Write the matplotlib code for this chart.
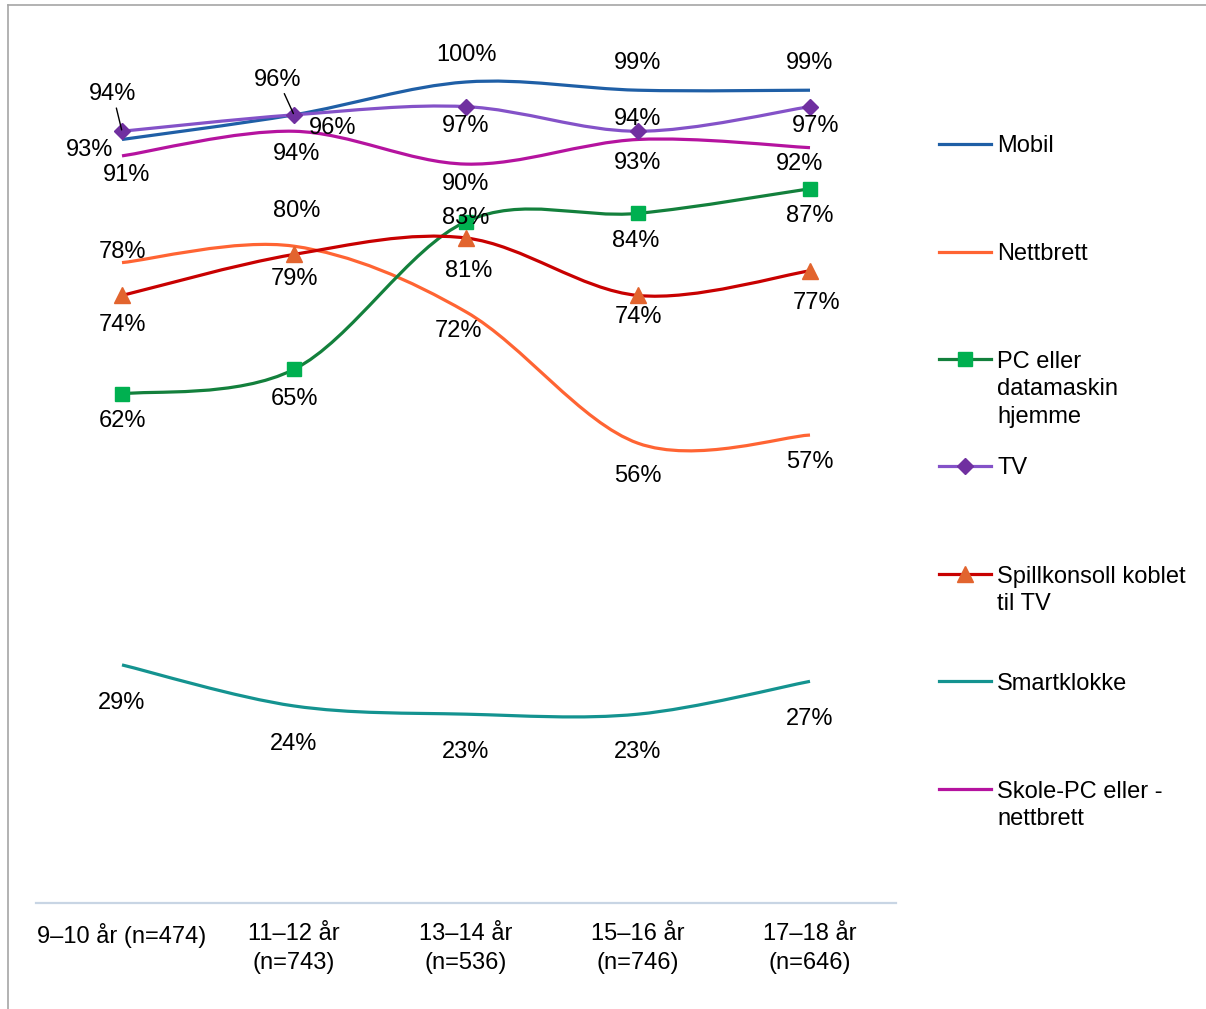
import numpy as np
import matplotlib.pyplot as plt
from matplotlib.path import Path
from matplotlib.patches import PathPatch
from matplotlib.lines import Line2D

plt.rcParams['font.family'] = ['Liberation Sans', 'DejaVu Sans']

# data
categories = ['9–10 år (n=474)', '11–12 år\n(n=743)', '13–14 år\n(n=536)',
              '15–16 år\n(n=746)', '17–18 år\n(n=646)']
names = ['Mobil', 'Nettbrett', 'PC eller\ndatamaskin\nhjemme', 'TV',
         'Spillkonsoll koblet\ntil TV', 'Smartklokke', 'Skole-PC eller -\nnettbrett']
mobil = [93, 96, 100, 99, 99]
nettbrett = [78, 80, 72, 56, 57]
pc = [62, 65, 83, 84, 87]
tv = [94, 96, 97, 94, 97]
spill = [74, 79, 81, 74, 77]
smart = [29, 24, 23, 23, 27]
skole = [91, 94, 90, 93, 92]

# styles: line colour, marker, marker colour
styles = [
    ('#1f5fa6', None, None),
    ('#ff6433', None, None),
    ('#13803c', 's', '#00b050'),
    ('#8452c8', 'D', '#7030a0'),
    ('#c80000', '^', '#e2642e'),
    ('#149390', None, None),
    ('#b5139f', None, None),
]
# label offsets in pixels (dx, dy), dy downwards
offsets = [
    [(-32, 8), (-16, -38), (0, -30), (0, -30), (0, -30)],
    [(0, -14), (3, -38), (-8, 16), (0, 30), (0, 24)],
    [(0, 24), (0, 27), (0, -7), (-2, 25), (0, 24)],
    [(-9, -40), (39, 10), (0, 16), (0, -15), (6, 16)],
    [(0, 27), (0, 22), (3, 30), (0, 19), (7, 29)],
    [(0, 35), (0, 35), (0, 35), (0, 35), (0, 35)],
    [(5, 16), (3, 20), (0, 17), (0, 21), (-10, 13)],
]
leaders = {(0, 1), (3, 0)}  # (series, point) with leader line

series = [mobil, nettbrett, pc, tv, spill, smart, skole]
W, H = 1206, 1009
fig = plt.figure(figsize=(W / 100, H / 100), dpi=100)
ax = fig.add_axes([36 / W, (H - 903) / H, 860 / W, (903 - 82) / H])
x = np.arange(len(categories)) + 0.5
ax.set_xlim(0, 5)
ax.set_ylim(0, 100)


def smooth_path(xs, ys):
    # excel-like smoothed line as cubic bezier segments
    pts = np.column_stack([xs, ys]).astype(float)
    n = len(pts)
    verts = [pts[0]]
    codes = [Path.MOVETO]
    for i in range(n - 1):
        p0 = pts[max(i - 1, 0)]
        p1 = pts[i]
        p2 = pts[i + 1]
        p3 = pts[min(i + 2, n - 1)]
        verts += [p1 + (p2 - p0) / 6, p2 - (p3 - p1) / 6, p2]
        codes += [Path.CURVE4] * 3
    return Path(verts, codes)


fs = 17
msize = {'s': 10, 'D': 8, '^': 12}
for k, vals in enumerate(series):
    col, mk, mcol = styles[k]
    ax.add_patch(PathPatch(smooth_path(x, vals), fill=False, edgecolor=col,
                           lw=2.3, clip_on=False, zorder=3))
    if mk:
        ax.plot(x, vals, ls='none', marker=mk, ms=msize[mk], color=mcol, mec=mcol,
                clip_on=False, zorder=4)
    for i, v in enumerate(vals):
        dx, dy = offsets[k][i]
        arrow = None
        if (k, i) in leaders:
            arrow = dict(arrowstyle='-', color='black', lw=1, shrinkA=0, shrinkB=1)
        ax.annotate(f'{v}%', (x[i], v), xytext=(dx, -(dy + 3)), textcoords='offset pixels',
                    ha='center', va='center', fontsize=fs, arrowprops=arrow,
                    annotation_clip=False, zorder=5)

for s in ['left', 'right', 'top']:
    ax.spines[s].set_visible(False)
ax.spines['bottom'].set_color('#c8d5e4')
ax.spines['bottom'].set_linewidth(1.6)
ax.set_yticks([])
ax.set_xticks(x)
ax.set_xticklabels(categories, fontsize=fs, linespacing=1.4)
ax.tick_params(axis='x', length=0, pad=14.5)

# legend, one text per line
leg_y = [144, 252, 359, 466, 574, 681, 789]
for k, name in enumerate(names):
    col, mk, mcol = styles[k]
    yy = 1 - leg_y[k] / H
    fig.add_artist(Line2D([939 / W, 991 / W], [yy, yy], color=col, lw=2.3))
    if mk:
        fig.add_artist(Line2D([965 / W], [yy], ls='none', marker=mk, ms=msize[mk],
                              color=mcol, mec=mcol))
    for j, line in enumerate(name.split('\n')):
        fig.text(997 / W, 1 - (leg_y[k] + 27.5 * j) / H, line, fontsize=fs,
                 ha='left', va='center_baseline')

# outer frame
fig.add_artist(Line2D([8 / W, 8 / W], [0, 1 - 5 / H], color='#a6a6a6', lw=1.2))
fig.add_artist(Line2D([8 / W, 1], [1 - 5 / H, 1 - 5 / H], color='#a6a6a6', lw=1.2))

fig.savefig('out.png', dpi=100)
